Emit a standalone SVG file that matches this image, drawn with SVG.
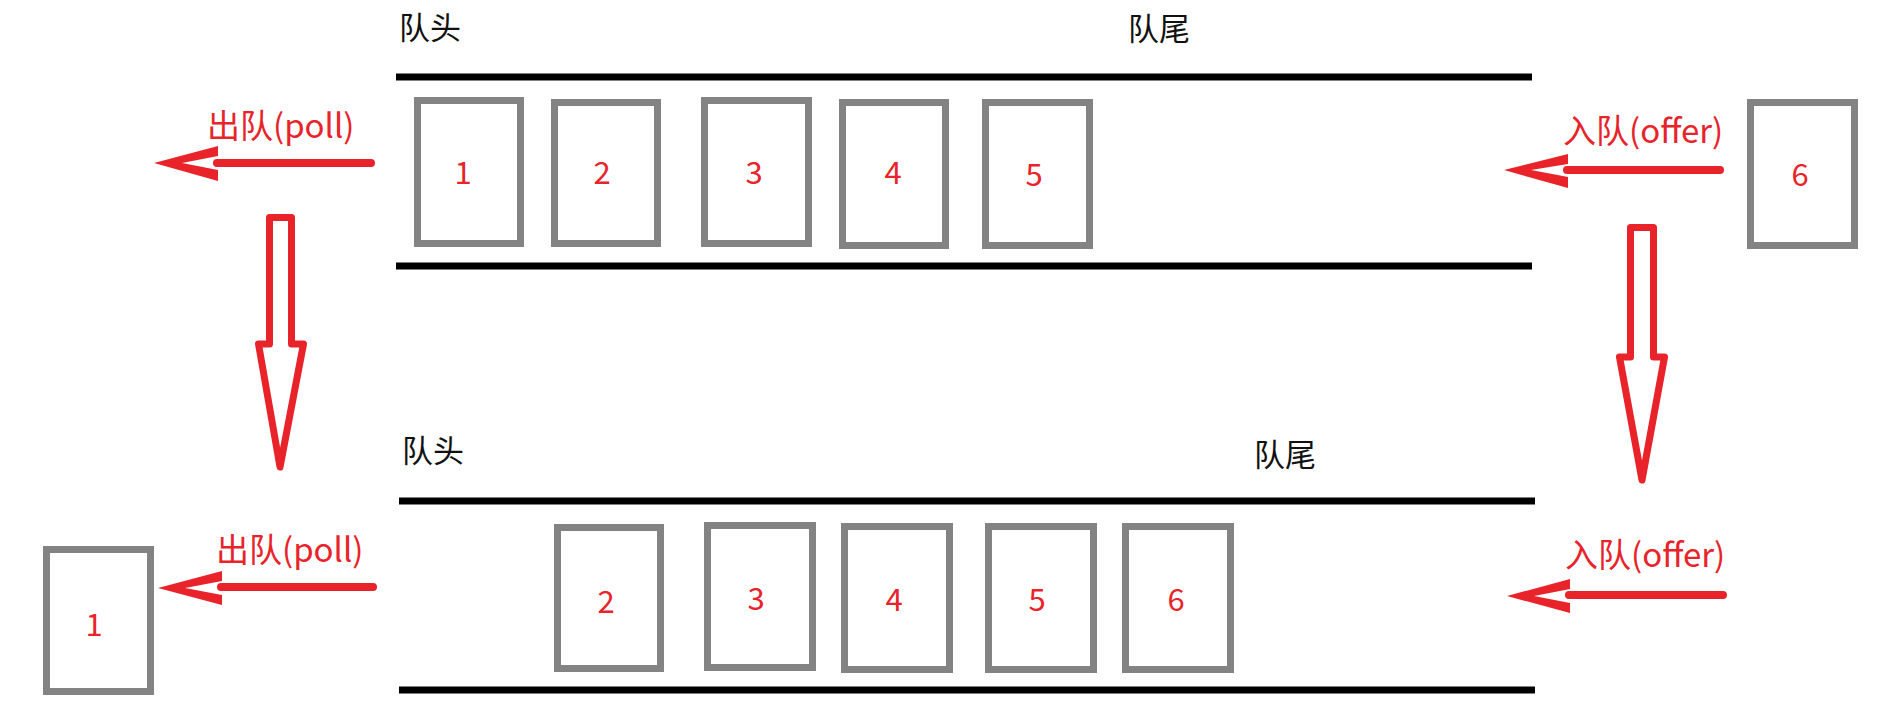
<svg xmlns="http://www.w3.org/2000/svg" width="1880" height="724" viewBox="0 0 1880 724">
<style>
  .bg{fill:#ffffff}
  .rail{stroke:#000000;stroke-width:7;fill:none}
  .box{fill:#ffffff;stroke:#838383;stroke-width:7}
  .num{font-family:"Noto Sans CJK SC","Noto Sans",sans-serif;font-size:31px;fill:#e8232a;text-anchor:middle}
  .head{font-family:"Noto Sans CJK SC",sans-serif;font-size:31px;fill:#111111}
  .lbl{font-family:"Noto Sans CJK SC",sans-serif;font-size:33px;fill:#e8232a}
  .shaft{stroke:#e8232a;stroke-width:8;stroke-linecap:round;fill:none}
  .chev{fill:#e8232a}
  .big{fill:#ffffff;stroke:#e8232a;stroke-width:7;stroke-linejoin:round}
</style>
<rect class="bg" x="0" y="0" width="1880" height="724"/>

<g id="queue-top">
  <line class="rail" x1="396" y1="77" x2="1532" y2="77"/>
  <line class="rail" x1="396" y1="266" x2="1532" y2="266"/>
  <text class="head" x="399" y="39">队头</text>
  <text class="head" x="1128" y="40">队尾</text>
</g>
<g id="queue-bottom">
  <line class="rail" x1="399" y1="501" x2="1535" y2="501"/>
  <line class="rail" x1="399" y1="690" x2="1535" y2="690"/>
  <text class="head" x="402" y="462">队头</text>
  <text class="head" x="1254" y="466">队尾</text>
</g>

<g id="top-1"><rect class="box" x="417.5" y="100.5" width="103" height="143"/><text class="num" x="463" y="184">1</text></g>
<g id="top-2"><rect class="box" x="554.5" y="102.5" width="103" height="141"/><text class="num" x="602" y="184">2</text></g>
<g id="top-3"><rect class="box" x="704.5" y="100.5" width="104" height="143"/><text class="num" x="754" y="184">3</text></g>
<g id="top-4"><rect class="box" x="842.5" y="102.5" width="103" height="143"/><text class="num" x="893" y="184">4</text></g>
<g id="top-5"><rect class="box" x="985.5" y="102.5" width="104" height="143"/><text class="num" x="1034" y="186">5</text></g>
<g id="top-6"><rect class="box" x="1750.5" y="102.5" width="104" height="143"/><text class="num" x="1800" y="186">6</text></g>

<g id="bottom-1"><rect class="box" x="46.5" y="549.5" width="104" height="142"/><text class="num" x="94" y="636">1</text></g>
<g id="bottom-2"><rect class="box" x="557.5" y="527.5" width="103" height="141"/><text class="num" x="606" y="613">2</text></g>
<g id="bottom-3"><rect class="box" x="707.5" y="525.5" width="105" height="142"/><text class="num" x="756" y="610">3</text></g>
<g id="bottom-4"><rect class="box" x="844.5" y="526.5" width="105" height="143"/><text class="num" x="894" y="611">4</text></g>
<g id="bottom-5"><rect class="box" x="988.5" y="526.5" width="105" height="143"/><text class="num" x="1037" y="611">5</text></g>
<g id="bottom-6"><rect class="box" x="1125.5" y="526.5" width="105" height="143"/><text class="num" x="1176" y="611">6</text></g>

<g id="connectors">
  <g id="poll-top">
    <line class="shaft" x1="371" y1="163" x2="217" y2="163"/>
    <polygon class="chev" points="154,163 218,146 218,156 182,163 218,170 218,181"/>
    <text class="lbl" x="207" y="138">出队(poll)</text>
  </g>
  <g id="offer-top">
    <line class="shaft" x1="1720" y1="170" x2="1567" y2="170"/>
    <polygon class="chev" points="1504,170 1568,154 1568,164 1531,170 1568,177 1568,188"/>
    <text class="lbl" x="1563" y="143">入队(offer)</text>
  </g>
  <g id="poll-bottom">
    <line class="shaft" x1="373" y1="587" x2="221" y2="587"/>
    <polygon class="chev" points="158,588 222,571 222,581 185,588 222,595 222,605"/>
    <text class="lbl" x="216" y="562">出队(poll)</text>
  </g>
  <g id="offer-bottom">
    <line class="shaft" x1="1723" y1="595" x2="1569" y2="595"/>
    <polygon class="chev" points="1507,596 1570,579 1570,589 1534,596 1570,603 1570,613"/>
    <text class="lbl" x="1565" y="567">入队(offer)</text>
  </g>
  <polygon id="down-left" class="big" points="269.5,217.5 291.5,217.5 291.5,344 303.5,344 280,467 258.5,344 269.5,344"/>
  <polygon id="down-right" class="big" points="1630.5,227.5 1653.5,227.5 1653.5,357 1664.5,357 1642,480 1619.5,357 1630.5,357"/>
</g>
</svg>
